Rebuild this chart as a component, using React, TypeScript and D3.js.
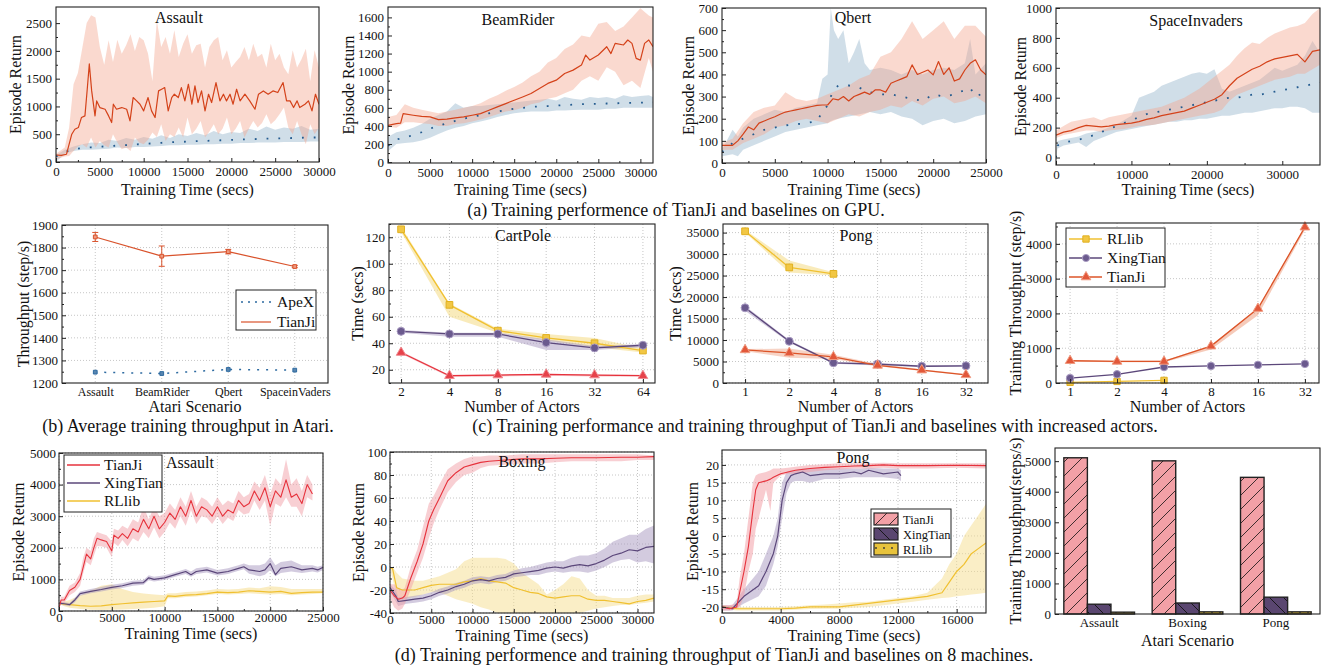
import { useEffect, useRef } from "react";
import * as d3 from "d3";

const FONT = "'Liberation Serif', 'Times New Roman', Times, serif";
const TICK = 13;
const AXT = 16;
const CAP = 18;
const HEAD = 16;

// ---------- shared time grids (secs) ----------
const t30k = [0, 1000, 2000, 3000, 4000, 5000, 6000, 7000, 8000, 9000, 10000, 11000, 12000, 13000, 14000, 15000, 16000, 17000, 18000, 19000, 20000, 21000, 22000, 23000, 24000, 25000, 26000, 27000, 28000, 29000, 30000];
const t31k5 = [0, 1000, 2000, 3000, 4000, 5000, 6000, 7000, 8000, 9000, 10000, 11000, 12000, 13000, 14000, 15000, 16000, 17000, 18000, 19000, 20000, 21000, 22000, 23000, 24000, 25000, 26000, 27000, 28000, 29000, 30000, 31000, 31500];
const t25k = [0, 1000, 2000, 3000, 4000, 5000, 6000, 7000, 8000, 9000, 10000, 11000, 12000, 13000, 14000, 15000, 16000, 17000, 18000, 19000, 20000, 21000, 22000, 23000, 24000, 25000];
const t25kHalf = [0, 500, 1000, 1500, 2000, 2500, 3000, 3500, 4000, 4500, 5000, 5500, 6000, 6500, 7000, 7500, 8000, 8500, 9000, 9500, 10000, 10500, 11000, 11500, 12000, 12500, 13000, 13500, 14000, 14500, 15000, 15500, 16000, 16500, 17000, 17500, 18000, 18500, 19000, 19500, 20000, 20500, 21000, 21500, 22000, 22500, 23000, 23500, 24000, 24500, 25000];
const t35k = [0, 1000, 2000, 3000, 4000, 5000, 6000, 7000, 8000, 9000, 10000, 11000, 12000, 13000, 14000, 15000, 16000, 17000, 18000, 19000, 20000, 21000, 22000, 23000, 24000, 25000, 26000, 27000, 28000, 29000, 30000, 31000, 32000, 33000, 34000, 35000];

// ---------- (a) Assault on GPU ----------
const assaultTianJiT = [0, 600, 1200, 1800, 2150, 2550, 2900, 3300, 3580, 3800, 4070, 4450, 4640, 5000, 5600, 6000, 6350, 6540, 6900, 7500, 8060, 8440, 8800, 9200, 9580, 10000, 10500, 10900, 11300, 11700, 12050, 12400, 12800, 13200, 13500, 13950, 14300, 14700, 15100, 15500, 15850, 16200, 16600, 17000, 17400, 17750, 18250, 18700, 19100, 19450, 19850, 20200, 20600, 21000, 21550, 22100, 22700, 23100, 23650, 24200, 24750, 25300, 25900, 26300, 26700, 27100, 27500, 27800, 28400, 28800, 29200, 29600, 30000];
const assaultTianJi = [126, 120, 140, 500, 590, 620, 800, 830, 1340, 1765, 1280, 830, 1100, 980, 950, 830, 710, 1040, 950, 980, 950, 740, 1160, 1100, 1040, 920, 1160, 920, 800, 1280, 1310, 1340, 920, 1160, 1220, 1160, 1340, 1100, 1400, 1040, 1370, 1070, 1280, 920, 1220, 1070, 1430, 1100, 1220, 1100, 1220, 1040, 1310, 1100, 1220, 1100, 950, 1220, 1280, 1220, 1280, 1250, 1430, 1100, 1100, 980, 1100, 980, 1040, 1100, 920, 1220, 1040];
const assaultBandT = [0, 1000, 1500, 2000, 2500, 3000, 3500, 4000, 4500, 5000, 5500, 6000, 6500, 7000, 7500, 8000, 8500, 9000, 9500, 10000, 10500, 11000, 11500, 12000, 12500, 13000, 13500, 14000, 14500, 15000, 15500, 16000, 16500, 17000, 17500, 18000, 18500, 19000, 19500, 20000, 20500, 21000, 21500, 22000, 22500, 23000, 23500, 24000, 24500, 25000, 25500, 26000, 26500, 27000, 27500, 28000, 28500, 29000, 29500, 30000];
const assaultTianJiHi = [150, 260, 620, 1400, 1600, 2050, 2500, 2640, 2600, 2070, 1750, 2190, 1800, 2200, 1950, 2100, 2300, 2000, 2250, 2190, 1950, 1460, 2550, 2070, 2250, 1950, 2370, 1890, 2130, 2300, 1950, 2100, 2130, 1700, 2070, 2190, 2250, 1830, 2010, 1700, 1800, 1890, 2070, 1830, 2130, 1890, 1950, 1700, 2130, 1830, 1950, 1700, 1580, 2010, 1700, 1850, 2040, 1460, 2010, 1700];
const assaultTianJiLo = [50, 100, 110, 200, 280, 320, 260, 440, 260, 380, 300, 260, 500, 350, 230, 260, 200, 440, 350, 320, 400, 530, 450, 680, 380, 500, 450, 620, 440, 800, 500, 600, 740, 440, 550, 680, 500, 600, 800, 500, 600, 740, 440, 600, 740, 620, 700, 860, 680, 750, 860, 980, 620, 500, 740, 500, 320, 680, 500, 620];
const assaultApex = [100, 180, 230, 250, 265, 275, 285, 295, 305, 315, 325, 335, 345, 355, 360, 368, 375, 380, 386, 392, 398, 404, 410, 415, 420, 424, 428, 432, 436, 440, 442];
const assaultApexHi = [120, 220, 280, 320, 350, 340, 400, 380, 430, 400, 450, 420, 480, 430, 500, 470, 520, 480, 560, 500, 540, 520, 600, 560, 640, 580, 620, 600, 650, 580, 600];
const assaultApexLo = [0, 150, 200, 220, 220, 230, 240, 260, 250, 270, 270, 280, 290, 300, 300, 310, 310, 320, 320, 330, 330, 340, 340, 350, 350, 350, 360, 360, 360, 370, 370];

// ---------- (a) BeamRider on GPU ----------
const beamTianJiT = [0, 1000, 1500, 1800, 3000, 4000, 5000, 6000, 7000, 8000, 9000, 10000, 11000, 12000, 13000, 14000, 15000, 16000, 17000, 18000, 19000, 20000, 21000, 22000, 23000, 23500, 24000, 25000, 26000, 26500, 27000, 28000, 28500, 29000, 29500, 30000, 30500, 31000, 31500];
const beamTianJi = [407, 425, 430, 536, 518, 505, 500, 470, 475, 490, 500, 518, 536, 573, 610, 647, 684, 720, 758, 814, 870, 906, 980, 1017, 1073, 1184, 1128, 1184, 1276, 1200, 1313, 1295, 1350, 1313, 1147, 1128, 1313, 1350, 1276];
const beamTianJiHi = [500, 520, 640, 600, 580, 560, 540, 560, 580, 600, 620, 650, 700, 740, 790, 830, 880, 950, 1000, 1100, 1150, 1250, 1300, 1400, 1380, 1530, 1550, 1450, 1500, 1600, 1700, 1620, 1600];
const beamTianJiLo = [390, 380, 440, 440, 430, 420, 400, 400, 420, 430, 450, 470, 500, 530, 560, 573, 600, 640, 660, 700, 720, 760, 800, 900, 950, 900, 1050, 1000, 850, 900, 820, 1150, 1000];
const beamApex = [180, 250, 270, 300, 330, 370, 400, 430, 455, 480, 500, 520, 540, 560, 575, 590, 600, 610, 615, 620, 625, 630, 635, 640, 642, 645, 648, 650, 652, 655, 658, 660, 660];
const beamApexHi = [280, 330, 350, 380, 420, 480, 520, 560, 650, 600, 620, 620, 630, 640, 650, 660, 670, 680, 690, 700, 680, 720, 700, 690, 720, 710, 720, 700, 740, 720, 730, 740, 720];
const beamApexLo = [120, 200, 210, 220, 240, 270, 310, 350, 380, 400, 430, 450, 470, 500, 520, 540, 550, 560, 560, 560, 570, 570, 575, 580, 580, 580, 590, 590, 600, 600, 600, 600, 600];

// ---------- (a) Qbert on GPU ----------
const qbertTianJi = [80, 80, 80, 100, 130, 163, 150, 180, 190, 200, 209, 220, 230, 235, 240, 245, 250, 255, 260, 262, 262, 290, 285, 300, 280, 300, 310, 320, 310, 330, 330, 320, 360, 370, 380, 390, 443, 400, 410, 420, 398, 458, 400, 430, 370, 380, 420, 450, 466, 420, 398];
const qbertTianJiHi = [90, 110, 180, 230, 250, 260, 320, 290, 280, 290, 310, 330, 350, 380, 400, 480, 500, 560, 640, 560, 600, 640, 560, 620, 620, 570];
const qbertTianJiLo = [60, 60, 90, 110, 130, 160, 170, 190, 200, 190, 180, 200, 220, 210, 230, 240, 260, 250, 280, 260, 290, 300, 270, 280, 300, 270];
const qbertApexT = [0, 1000, 1500, 2000, 3000, 4000, 5000, 6000, 7000, 8000, 9000, 9500, 10000, 10300, 10600, 11000, 11500, 12000, 12500, 13000, 13500, 14000, 15000, 16000, 17000, 18000, 19000, 20000, 21000, 22000, 23000, 23500, 24000, 25000];
const qbertApex = [50, 90, 100, 110, 130, 150, 160, 170, 175, 180, 190, 230, 260, 300, 330, 350, 350, 350, 345, 340, 330, 320, 310, 310, 300, 290, 280, 310, 300, 310, 330, 340, 300, 320];
const qbertApexHi = [60, 150, 120, 160, 200, 220, 240, 230, 250, 260, 270, 380, 400, 700, 600, 560, 600, 450, 500, 560, 450, 420, 430, 420, 400, 420, 400, 420, 430, 420, 450, 560, 400, 450];
const qbertApexLo = [30, 40, 30, 60, 80, 100, 120, 140, 150, 160, 170, 175, 180, 190, 195, 200, 205, 210, 215, 220, 225, 230, 220, 230, 210, 200, 170, 190, 200, 180, 190, 200, 210, 220];

// ---------- (a) SpaceInvaders on GPU ----------
const spaceTianJi = [150, 170, 180, 200, 215, 210, 205, 210, 220, 225, 230, 240, 255, 265, 280, 290, 300, 310, 330, 350, 370, 390, 420, 480, 530, 560, 590, 610, 640, 660, 670, 680, 690, 640, 710, 720];
const spaceTianJiHi = [180, 210, 240, 250, 260, 270, 250, 270, 280, 290, 300, 310, 320, 330, 340, 360, 380, 400, 430, 460, 500, 540, 580, 620, 680, 730, 770, 760, 800, 830, 850, 870, 880, 900, 960, 1000];
const spaceTianJiLo = [130, 150, 160, 170, 180, 180, 170, 180, 185, 190, 200, 210, 215, 220, 230, 240, 250, 260, 270, 280, 290, 300, 320, 380, 420, 440, 460, 480, 500, 520, 530, 540, 560, 560, 590, 620];
const spaceApexT = [0, 200, 1000, 2000, 3000, 4000, 5000, 6000, 7000, 8000, 9000, 10000, 11000, 12000, 13000, 14000, 15000, 16000, 17000, 18000, 19000, 20000, 21000, 22000, 23000, 24000, 25000, 26000, 27000, 28000, 29000, 30000, 31000, 32000, 33000, 34000, 35000];
const spaceApex = [0, 80, 100, 110, 120, 130, 150, 170, 190, 210, 230, 250, 270, 290, 300, 310, 320, 330, 340, 350, 360, 370, 380, 390, 400, 400, 410, 420, 420, 430, 440, 450, 460, 470, 480, 490, 500];
const spaceApexHi = [10, 110, 120, 130, 140, 160, 170, 180, 200, 220, 250, 280, 400, 420, 440, 480, 500, 520, 540, 560, 570, 560, 590, 460, 440, 460, 480, 500, 520, 560, 600, 580, 600, 620, 680, 780, 700];
const spaceApexLo = [0, 60, 80, 90, 100, 70, 110, 130, 150, 170, 180, 190, 200, 210, 220, 230, 240, 240, 250, 250, 260, 260, 270, 280, 280, 290, 300, 300, 310, 320, 330, 330, 340, 340, 330, 300, 300];

// ---------- (b) average throughput ----------
const atariScenarios = ["Assault", "BeamRider", "Qbert", "SpaceinVaders"];
const throughputTianJi = [1847, 1762, 1782, 1716];
const throughputTianJiErr = [20, 45, 10, 5];
const throughputApex = [1248, 1242, 1260, 1257];

// ---------- (c) increased actors ----------
const cartActors = ["2", "4", "8", "16", "32", "64"];
const cartRllib = [126, 69, 49.5, 44, 40, 34.5];
const cartRllibHi = [128, 70, 51, 47, 44, 36];
const cartRllibLo = [124, 60, 48, 42, 37, 33];
const cartXingTian = [49, 47, 47, 40.5, 36.5, 38.5];
const cartXingTianHi = [50, 48, 48, 43, 38, 39.5];
const cartXingTianLo = [48, 45, 45, 35, 35, 37];
const cartTianJi = [33, 15.5, 16, 16.5, 16, 15.5];
const cartTianJiHi = [34, 16, 16.5, 17, 16.5, 16];
const cartTianJiLo = [32, 14.5, 15, 15.5, 15, 15];

const pongActors = ["1", "2", "4", "8", "16", "32"];
const pongRllib = [35300, 26900, 25400];
const pongRllibHi = [35600, 28500, 25800];
const pongRllibLo = [35000, 25700, 25000];
const pongXingTian = [17500, 9700, 4700, 4400, 3900, 4000];
const pongXingTianHi = [17900, 10000, 4900, 4700, 4100, 4200];
const pongXingTianLo = [16800, 9400, 4500, 4100, 3700, 3800];
const pongTianJi = [7700, 7000, 6100, 4100, 3000, 1900];
const pongTianJiHi = [7900, 8000, 6600, 4400, 3200, 2100];
const pongTianJiLo = [7400, 5900, 5600, 3900, 2800, 1800];

const tputActors = ["1", "2", "4", "8", "16", "32"];
const tputRllib = [20, 45, 75];
const tputXingTian = [140, 250, 460, 490, 520, 550];
const tputTianJi = [640, 620, 620, 1060, 2140, 4480];
const tputTianJiHi = [660, 640, 640, 1080, 2160, 4500];
const tputTianJiLo = [620, 600, 600, 960, 1950, 4400];

// ---------- (d) 8 machines: Assault ----------
const m8AssaultTianJiT = [0, 200, 500, 1000, 1500, 2000, 2300, 2600, 3000, 3300, 3600, 4000, 4500, 5000, 5200, 5600, 6000, 6500, 7000, 7500, 8000, 8500, 9000, 9500, 10000, 10500, 11000, 11500, 12000, 12500, 13000, 13500, 14000, 14500, 15000, 15500, 16000, 16500, 17000, 17500, 18000, 18500, 19000, 19500, 20000, 20500, 21000, 21500, 22000, 22500, 23000, 23500, 24000];
const m8AssaultTianJi = [100, 350, 350, 650, 750, 1000, 1400, 1800, 1650, 2000, 2300, 2250, 2200, 1900, 2400, 2300, 2450, 2300, 2600, 2500, 2900, 2600, 3000, 2600, 2800, 3100, 2900, 3300, 3000, 3500, 3000, 3300, 3200, 3000, 3300, 3000, 3200, 3100, 3500, 3300, 3400, 3800, 3500, 3900, 3300, 3800, 3600, 4150, 3600, 3700, 3400, 4000, 3700];
const m8AssaultTianJiHi = [150, 450, 450, 800, 900, 1200, 1700, 2000, 1900, 2300, 2500, 2450, 2400, 2200, 2600, 2550, 2700, 2600, 2900, 2800, 3300, 2900, 3300, 3000, 3100, 3400, 3200, 3600, 3300, 3800, 3300, 3600, 3500, 3300, 3600, 3350, 3500, 3400, 3800, 3600, 3700, 4100, 3900, 4300, 3700, 4200, 4000, 4800, 4000, 4200, 3800, 4300, 4000];
const m8AssaultTianJiLo = [50, 250, 250, 500, 600, 800, 1200, 1550, 1450, 1750, 2050, 2050, 2000, 1700, 2150, 2050, 2250, 2050, 2300, 2200, 2500, 2300, 2650, 2300, 2500, 2800, 2600, 3000, 2700, 3200, 2750, 3000, 2950, 2750, 3000, 2750, 2950, 2850, 3200, 3050, 3100, 3500, 3200, 3500, 2700, 3400, 3300, 3600, 3300, 3300, 3000, 3600, 3500];
const m8AssaultXingTianT = [0, 500, 1000, 1500, 2000, 3000, 4000, 5000, 6000, 7000, 8000, 8500, 9000, 10000, 11000, 12000, 12500, 13000, 14000, 15000, 16000, 17000, 17500, 18000, 19000, 19500, 20000, 20500, 21000, 22000, 23000, 24000, 24500, 25000];
const m8AssaultXingTian = [250, 230, 200, 350, 550, 620, 680, 750, 800, 880, 900, 1050, 1000, 1050, 1150, 1250, 1150, 1250, 1300, 1200, 1250, 1350, 1400, 1300, 1250, 1300, 1500, 1150, 1350, 1400, 1300, 1350, 1300, 1380];
const m8AssaultXingTianHi = [300, 280, 250, 420, 620, 700, 760, 830, 880, 960, 980, 1130, 1080, 1130, 1230, 1330, 1250, 1350, 1400, 1300, 1350, 1450, 1500, 1450, 1450, 1500, 1700, 1450, 1550, 1600, 1450, 1450, 1400, 1450];
const m8AssaultXingTianLo = [200, 180, 150, 280, 480, 560, 620, 680, 730, 800, 830, 970, 930, 980, 1080, 1170, 1080, 1170, 1220, 1120, 1170, 1270, 1320, 1180, 1100, 1150, 1300, 1100, 1200, 1250, 1200, 1250, 1220, 1300];
const m8AssaultRllibT = [0, 500, 1000, 2000, 3000, 4000, 5000, 6000, 7000, 8000, 9000, 10000, 10300, 11000, 12000, 13000, 14000, 15000, 16000, 17000, 18000, 19000, 20000, 21000, 22000, 23000, 24000, 25000];
const m8AssaultRllib = [250, 220, 200, 170, 150, 160, 200, 230, 260, 280, 300, 320, 480, 460, 500, 520, 550, 600, 580, 600, 640, 620, 600, 620, 560, 580, 600, 600];
const m8AssaultRllibHi = [270, 300, 350, 500, 650, 800, 850, 700, 600, 550, 520, 500, 560, 560, 600, 620, 650, 700, 680, 700, 740, 720, 780, 760, 700, 700, 700, 700];
const m8AssaultRllibLo = [230, 150, 100, 60, 40, 30, 40, 50, 60, 80, 100, 150, 400, 400, 440, 460, 500, 540, 520, 540, 560, 540, 520, 540, 500, 520, 540, 560];

// ---------- (d) 8 machines: Boxing ----------
const m8BoxingTianJiT = [0, 500, 1000, 1500, 1800, 2500, 3300, 4000, 4700, 5300, 6000, 7000, 8000, 9000, 10000, 11000, 12000, 14000, 16000, 18000, 20000, 22000, 25000, 28000, 30000, 32000];
const m8BoxingTianJi = [-20, -25, -28, -27, -25, -10, 5, 20, 40, 50, 60, 75, 82, 87, 89, 91, 92, 93, 94, 94, 94.5, 95, 95, 95.5, 95.5, 96];
const m8BoxingTianJiHi = [-15, -15, -18, -20, -18, 0, 15, 35, 55, 62, 72, 85, 90, 94, 96, 96, 97, 97, 98, 98, 98, 98, 98, 98, 98, 97];
const m8BoxingTianJiLo = [-27, -35, -38, -36, -32, -20, -5, 8, 25, 38, 50, 65, 74, 80, 82, 86, 88, 89, 90, 90, 91, 92, 92, 92, 93, 93];
const m8BoxingXingTianT = [0, 700, 1000, 2000, 3000, 4000, 5000, 6000, 7000, 8000, 9000, 10000, 11000, 12000, 13000, 14000, 15000, 16000, 17000, 18000, 19000, 20000, 21000, 22000, 23000, 24000, 25000, 26000, 27000, 28000, 29000, 30000, 31000, 32000];
const m8BoxingXingTian = [-18, -25, -30, -29, -28, -27, -25, -22, -20, -17, -15, -12, -11, -12, -10, -9, -6, -5, -4, -3, -1, 0, -1, 1, 2, 1, 3, 6, 10, 12, 15, 14, 17, 18];
const m8BoxingXingTianHi = [-15, -20, -26, -26, -25, -24, -22, -19, -17, -14, -12, -9, -8, -9, -7, -6, -3, -1, 0, 2, 4, 5, 5, 8, 10, 10, 12, 16, 22, 25, 28, 28, 33, 36];
const m8BoxingXingTianLo = [-21, -30, -34, -32, -31, -30, -28, -25, -23, -20, -18, -15, -14, -15, -13, -12, -9, -8, -7, -7, -5, -4, -5, -4, -4, -5, -3, 0, 4, 6, 7, 4, 5, 3];
const m8BoxingRllibT = [0, 300, 800, 1500, 3000, 4000, 5000, 6000, 7000, 8000, 9000, 10000, 11000, 12000, 13000, 14000, 15000, 16000, 17000, 18000, 19000, 20000, 21000, 22000, 23000, 24000, 25000, 26000, 27000, 28000, 29000, 30000, 31000, 32000];
const m8BoxingRllib = [-1, -1, -18, -20, -20, -18, -16, -15, -15, -15, -13, -12, -10, -12, -13, -14, -18, -20, -22, -23, -26, -27, -26, -25, -25, -28, -29, -29, -30, -31, -32, -30, -29, -27];
const m8BoxingRllibHi = [-1, 0, -5, -10, -12, -12, -10, -8, -5, -2, 5, 8, 8, 8, 8, 7, 3, -5, -10, -15, -24, -20, -15, -8, -10, -20, -25, -25, -27, -27, -27, -25, -24, -24];
const m8BoxingRllibLo = [-1, -10, -25, -28, -26, -24, -22, -22, -25, -28, -30, -32, -35, -37, -40, -40, -40, -40, -40, -40, -40, -40, -40, -40, -40, -38, -36, -35, -34, -33, -33, -32, -31, -30];

// ---------- (d) 8 machines: Pong ----------
const m8PongTianJiT = [0, 500, 1000, 1200, 1500, 1800, 2100, 2300, 2500, 3000, 3300, 3500, 4000, 4500, 5000, 6000, 7000, 8000, 9000, 10000, 11000, 12000, 14000, 16000, 18000];
const m8PongTianJi = [-20, -20.5, -20, -16, -10, -3, 7, 13, 15, 15.5, 16, 16.5, 17.5, 18, 18.5, 19, 19.3, 19.5, 19.7, 19.8, 20, 19.8, 19.8, 19.9, 19.8];
const m8PongTianJiHi = [-19.5, -19.5, -19, -12, -5, 5, 15, 17, 17.5, 18, 18.5, 19, 19, 19.2, 19.5, 20, 20.2, 20.5, 20.5, 20.5, 20.6, 20.5, 20.5, 20.5, 20.5];
const m8PongTianJiLo = [-21, -21, -20.5, -20, -17, -10, -5, 2, 5, 13, 7, 15, 17, 17.5, 17.5, 18, 18.5, 18.7, 19, 19, 19.2, 19, 19, 19.2, 19];
const m8PongXingTianT = [0, 700, 1500, 2500, 3000, 3500, 3800, 4100, 4400, 4700, 5000, 5500, 6000, 7000, 8000, 9000, 9500, 10000, 11000, 12000, 12200];
const m8PongXingTian = [-20, -20.5, -17, -14, -10, -5, 0, 10, 15, 17, 17.5, 18, 17, 17.5, 17.5, 18, 17.5, 18.5, 17.5, 18, 17];
const m8PongXingTianHi = [-19.5, -19.5, -15, -10, -5, 0, 5, 15, 18, 18.5, 18.5, 19, 19, 19, 19, 19, 19, 19.2, 19, 19, 18.5];
const m8PongXingTianLo = [-21, -21, -19, -17, -14, -8, -3, 5, 12, 15, 15.5, 15.5, 15, 16, 16, 16.5, 16.5, 16.5, 16.5, 16, 15.5];
const m8PongRllibT = [0, 1000, 2000, 3000, 4000, 5000, 6000, 7000, 8000, 9000, 10000, 11000, 12000, 13000, 14000, 15000, 15500, 16000, 16500, 17000, 17500, 18000];
const m8PongRllib = [-20, -20.5, -20.5, -20.5, -20.5, -20.3, -20, -20, -20, -19.5, -19, -18.5, -18, -17.5, -17, -16, -13, -10, -8, -5, -3.5, -2];
const m8PongRllibHi = [-19.5, -20, -20, -20, -20, -19.8, -19.5, -19.3, -19, -18.7, -18.5, -18, -17.5, -17, -16, -12, -8, -5, 0, 3, 6, 9];
const m8PongRllibLo = [-20.5, -21, -21, -21, -21, -20.8, -20.6, -20.5, -20.5, -20.2, -20, -19.5, -19, -18.5, -18, -17.5, -17.3, -17, -16.8, -16.5, -16.3, -16];

// ---------- (d) 8 machines: throughput bars ----------
const barScenarios = ["Assault", "Boxing", "Pong"];
const barSystems = ["TianJi", "XingTian", "RLlib"];
const barTianJi = [5110, 5010, 4470];
const barXingTian = [320, 360, 550];
const barRllib = [60, 70, 70];

// colours
const C = {
  gpuRed: "#d4421a",
  gpuRedBand: "#f2a58c",
  apexBlue: "#245b8f",
  apexBand: "#8fb0c8",
  yellow: "#f0c030",
  yellowBand: "#f5dd8e",
  purple: "#5b477a",
  purpleBand: "#a898bf",
  red: "#e6323c",
  redBand: "#f2a0a8",
  orange: "#dc5428",
  barPink: "#f2a0a6",
  barPurple: "#5a4670",
  barYellow: "#e8c33c",
};

type Box = { l: number; t: number; r: number; b: number };

const zip = (T: any[], ...cols: number[][]) => T.map((t, i) => [t, ...cols.map((c) => c[i])]);

function txt(svg: any, x: number, y: number, s: string, size: number, anchor = "middle", rot = false) {
  const t = svg
    .append("text")
    .attr("font-family", FONT)
    .attr("font-size", size)
    .attr("fill", "#111")
    .attr("text-anchor", anchor)
    .text(s);
  if (rot) t.attr("transform", `translate(${x},${y}) rotate(-90)`).attr("dy", "0.35em");
  else t.attr("x", x).attr("y", y);
  return t;
}

function band(g: any, x: any, y: any, T: any[], lo: number[], hi: number[], fill: string, op: number) {
  const area = d3
    .area<any>()
    .x((d) => x(d[0]))
    .y0((d) => y(d[1]))
    .y1((d) => y(d[2]));
  g.append("path").datum(zip(T, lo, hi)).attr("d", area).attr("fill", fill).attr("fill-opacity", op);
}

function line(g: any, x: any, y: any, T: any[], v: number[], stroke: string, w: number, dash: string | null = null) {
  const ln = d3
    .line<any>()
    .x((d) => x(d[0]))
    .y((d) => y(d[1]));
  g.append("path")
    .datum(zip(T.slice(0, v.length), v))
    .attr("d", ln)
    .attr("fill", "none")
    .attr("stroke", stroke)
    .attr("stroke-width", w)
    .attr("stroke-linejoin", "round")
    .attr("stroke-dasharray", dash);
}

function marks(g: any, x: any, y: any, cats: string[], v: number[], type: any, size: number, fill: string, stroke: string) {
  const sym = d3.symbol().type(type).size(size);
  v.forEach((d, i) => {
    g.append("path")
      .attr("d", sym())
      .attr("transform", `translate(${x(cats[i])},${y(d)})`)
      .attr("fill", fill)
      .attr("stroke", stroke)
      .attr("stroke-width", 1);
  });
}

function clipped(svg: any, defs: any, id: string, box: Box) {
  defs
    .append("clipPath")
    .attr("id", id)
    .append("rect")
    .attr("x", box.l)
    .attr("y", box.t)
    .attr("width", box.r - box.l)
    .attr("height", box.b - box.t);
  return svg.append("g").attr("clip-path", `url(#${id})`);
}

function grid(svg: any, box: Box, x: any, y: any, xs: any[], ys: number[]) {
  const g = svg.append("g").attr("stroke", "#b8b8b8").attr("stroke-width", 0.8).attr("stroke-dasharray", "1,2");
  xs.forEach((v) => g.append("line").attr("x1", x(v)).attr("x2", x(v)).attr("y1", box.t).attr("y2", box.b));
  ys.forEach((v) => g.append("line").attr("y1", y(v)).attr("y2", y(v)).attr("x1", box.l).attr("x2", box.r));
}

function axes(svg: any, box: Box, x: any, y: any, o: any) {
  const style = (s: any) => {
    s.select(".domain").remove();
    s.selectAll("line").attr("stroke", "#222");
    s.selectAll("text").attr("font-family", FONT).attr("font-size", o.xFont ?? TICK).attr("fill", "#111");
  };
  const styleY = (s: any) => {
    style(s);
    s.selectAll("text").attr("font-size", TICK);
  };
  const fmt = (d: any) => String(d);
  if (o.xMinor)
    svg.append("g").attr("transform", `translate(0,${box.b})`)
      .call(d3.axisBottom(x).tickValues(o.xMinor).tickSize(-2).tickFormat(() => "")).call(style);
  svg.append("g").attr("transform", `translate(0,${box.b})`)
    .call(d3.axisBottom(x).tickValues(o.xTicks).tickSize(o.xTickSize ?? -4).tickPadding(o.xPad ?? 5).tickFormat(fmt)).call(style);
  if (o.yMinor)
    svg.append("g").attr("transform", `translate(${box.l},0)`)
      .call(d3.axisLeft(y).tickValues(o.yMinor).tickSize(-2).tickFormat(() => "")).call(styleY);
  svg.append("g").attr("transform", `translate(${box.l},0)`)
    .call(d3.axisLeft(y).tickValues(o.yTicks).tickSize(-4).tickPadding(o.yPad ?? 4).tickFormat(fmt)).call(styleY);
  svg.append("rect")
    .attr("x", box.l).attr("y", box.t)
    .attr("width", box.r - box.l).attr("height", box.b - box.t)
    .attr("fill", "none").attr("stroke", "#222").attr("stroke-width", 1.1);
}

function gpuPanel(svg: any, defs: any, id: string, box: Box, xMax: number, yDom: number[], o: any, d: any) {
  const x = d3.scaleLinear().domain([0, xMax]).range([box.l, box.r]);
  const y = d3.scaleLinear().domain(yDom).range([box.b, box.t]);
  const g = clipped(svg, defs, id, box);
  band(g, x, y, d.apexT, d.apexLo, d.apexHi, C.apexBand, 0.42);
  band(g, x, y, d.bandT, d.tjLo, d.tjHi, C.gpuRedBand, 0.42);
  line(g, x, y, d.apexT, d.apex, C.apexBlue, 1.8, "1.8,10");
  line(g, x, y, d.tjT, d.tj, C.gpuRed, 1.2);
  axes(svg, box, x, y, o);
  txt(svg, o.titleX, o.titleY, o.title, HEAD);
  txt(svg, (box.l + box.r) / 2, 195, "Training Time (secs)", AXT);
  txt(svg, o.yTitleX, (box.t + box.b) / 2, "Episode Return", AXT, "middle", true);
}

function drawAll(svg: any) {
  const defs = svg.append("defs");

  // hatch patterns for bars / legend patches
  const pat = (id: string, size: number, path: string, stroke: string, w: number) =>
    defs.append("pattern").attr("id", id).attr("patternUnits", "userSpaceOnUse")
      .attr("width", size).attr("height", size)
      .append("path").attr("d", path).attr("stroke", stroke).attr("stroke-width", w).attr("fill", "none");
  pat("hatchFwd", 14, "M0,14 L14,0 M-3,3 L3,-3 M11,17 L17,11", "#2a2020", 0.9);
  pat("hatchBack", 14, "M0,0 L14,14 M-3,11 L3,17 M11,-3 L17,3", "#111", 0.9);
  defs.append("pattern").attr("id", "dots").attr("patternUnits", "userSpaceOnUse")
    .attr("width", 8).attr("height", 8)
    .append("circle").attr("cx", 4).attr("cy", 4).attr("r", 0.9).attr("fill", "#333");

  // ===== row (a) =====
  gpuPanel(svg, defs, "ca1", { l: 56, t: 7, r: 319, b: 162 }, 30000, [0, 2790],
    {
      xTicks: [0, 5000, 10000, 15000, 20000, 25000, 30000], xMinor: d3.range(2500, 30000, 5000),
      yTicks: [0, 500, 1000, 1500, 2000, 2500], yMinor: d3.range(250, 2750, 500),
      title: "Assault", titleX: 179, titleY: 23, yTitleX: 15,
    },
    {
      tjT: assaultTianJiT, tj: assaultTianJi, bandT: assaultBandT, tjHi: assaultTianJiHi, tjLo: assaultTianJiLo,
      apexT: t30k, apex: assaultApex, apexHi: assaultApexHi, apexLo: assaultApexLo,
    });
  gpuPanel(svg, defs, "ca2", { l: 388, t: 7, r: 653, b: 163 }, 31500, [-10, 1715],
    {
      xTicks: [0, 5000, 10000, 15000, 20000, 25000, 30000], xMinor: d3.range(2500, 31500, 5000),
      yTicks: [0, 200, 400, 600, 800, 1000, 1200, 1400, 1600], yMinor: d3.range(100, 1700, 200),
      title: "BeamRider", titleX: 518, titleY: 25, yTitleX: 348,
    },
    {
      tjT: beamTianJiT, tj: beamTianJi, bandT: t31k5, tjHi: beamTianJiHi, tjLo: beamTianJiLo,
      apexT: t31k5, apex: beamApex, apexHi: beamApexHi, apexLo: beamApexLo,
    });
  gpuPanel(svg, defs, "ca3", { l: 722, t: 8, r: 986, b: 163 }, 25000, [0, 700],
    {
      xTicks: [0, 5000, 10000, 15000, 20000, 25000], xMinor: d3.range(2500, 25000, 5000),
      yTicks: [0, 100, 200, 300, 400, 500, 600, 700], yMinor: d3.range(50, 700, 100),
      title: "Qbert", titleX: 853, titleY: 23, yTitleX: 688,
    },
    {
      tjT: t25kHalf, tj: qbertTianJi, bandT: t25k, tjHi: qbertTianJiHi, tjLo: qbertTianJiLo,
      apexT: qbertApexT, apex: qbertApex, apexHi: qbertApexHi, apexLo: qbertApexLo,
    });
  gpuPanel(svg, defs, "ca4", { l: 1056, t: 8, r: 1320, b: 165 }, 35000, [-50, 1000],
    {
      xTicks: [0, 10000, 20000, 30000], xMinor: [5000, 15000, 25000],
      yTicks: [0, 200, 400, 600, 800, 1000], yMinor: d3.range(100, 1000, 200),
      title: "SpaceInvaders", titleX: 1196, titleY: 26, yTitleX: 1020,
    },
    {
      tjT: t35k, tj: spaceTianJi, bandT: t35k, tjHi: spaceTianJiHi, tjLo: spaceTianJiLo,
      apexT: spaceApexT, apex: spaceApex, apexHi: spaceApexHi, apexLo: spaceApexLo,
    });
  txt(svg, 676, 216, "(a) Training performence of TianJi and baselines on GPU.", CAP);

  // ===== (b) throughput =====
  {
    const box = { l: 62, t: 225, r: 328, b: 383 };
    const x = d3.scalePoint().domain(atariScenarios).range([box.l, box.r]).padding(0.5);
    const y = d3.scaleLinear().domain([1200, 1900]).range([box.b, box.t]);
    grid(svg, box, x, y, atariScenarios, [1300, 1400, 1500, 1600, 1700, 1800]);
    line(svg, x, y, atariScenarios, throughputApex, "#2d6aa0", 1.5, "2,7");
    line(svg, x, y, atariScenarios, throughputTianJi, "#d9532c", 1.2);
    throughputTianJi.forEach((v, i) => {
      const cx = x(atariScenarios[i])!;
      const e = throughputTianJiErr[i];
      const g = svg.append("g").attr("stroke", "#d9532c").attr("stroke-width", 1);
      g.append("line").attr("x1", cx).attr("x2", cx).attr("y1", y(v - e)).attr("y2", y(v + e));
      g.append("line").attr("x1", cx - 3).attr("x2", cx + 3).attr("y1", y(v - e)).attr("y2", y(v - e));
      g.append("line").attr("x1", cx - 3).attr("x2", cx + 3).attr("y1", y(v + e)).attr("y2", y(v + e));
    });
    marks(svg, x, y, atariScenarios, throughputTianJi, d3.symbolSquare, 14, "#ee9a80", "#d9532c");
    marks(svg, x, y, atariScenarios, throughputApex, d3.symbolSquare, 14, "#5a86b0", "#2d6aa0");
    axes(svg, box, x, y, {
      xTicks: atariScenarios, xTickSize: 0, xPad: 4, xFont: 12,
      yTicks: [1200, 1300, 1400, 1500, 1600, 1700, 1800, 1900], yMinor: d3.range(1250, 1900, 100),
    });
    // legend
    svg.append("rect").attr("x", 236).attr("y", 290).attr("width", 80).attr("height", 40)
      .attr("fill", "#fff").attr("stroke", "#222").attr("stroke-width", 1);
    svg.append("line").attr("x1", 241).attr("x2", 271).attr("y1", 302).attr("y2", 302)
      .attr("stroke", "#2d6aa0").attr("stroke-width", 1.5).attr("stroke-dasharray", "2,5");
    svg.append("line").attr("x1", 241).attr("x2", 271).attr("y1", 322).attr("y2", 322)
      .attr("stroke", "#d9532c").attr("stroke-width", 1.2);
    txt(svg, 277, 307, "ApeX", 15.5, "start");
    txt(svg, 277, 327, "TianJi", 15.5, "start");
    txt(svg, (box.l + box.r) / 2, 412, "Atari Scenario", AXT);
    txt(svg, 23, (box.t + box.b) / 2, "Throughput (step/s)", AXT, "middle", true);
    txt(svg, 188, 432, "(b) Average training throughput in Atari.", CAP);
  }

  // ===== (c) CartPole time =====
  {
    const box = { l: 389, t: 224, r: 655, b: 383 };
    const x = d3.scalePoint().domain(cartActors).range([box.l, box.r]).padding(0.25);
    const y = d3.scaleLinear().domain([10, 130]).range([box.b, box.t]);
    grid(svg, box, x, y, cartActors, [20, 40, 60, 80, 100, 120]);
    const g = clipped(svg, defs, "cc1", box);
    band(g, x, y, cartActors, cartRllibLo, cartRllibHi, C.yellowBand, 0.6);
    band(g, x, y, cartActors, cartXingTianLo, cartXingTianHi, C.purpleBand, 0.5);
    band(g, x, y, cartActors, cartTianJiLo, cartTianJiHi, C.redBand, 0.6);
    line(g, x, y, cartActors, cartRllib, C.yellow, 1.3);
    line(g, x, y, cartActors, cartXingTian, C.purple, 1.3);
    line(g, x, y, cartActors, cartTianJi, C.red, 1.3);
    marks(svg, x, y, cartActors, cartRllib, d3.symbolSquare, 45, "#f2c744", "#e0b020");
    marks(svg, x, y, cartActors, cartXingTian, d3.symbolCircle, 50, "#6b5a8e", "#a99bc2");
    marks(svg, x, y, cartActors, cartTianJi, d3.symbolTriangle, 40, "#e6424a", "#f08a90");
    axes(svg, box, x, y, {
      xTicks: cartActors, xPad: 4,
      yTicks: [20, 40, 60, 80, 100, 120], yMinor: d3.range(10, 131, 10).filter((v) => v % 20 !== 0),
    });
    txt(svg, 523, 241, "CartPole", HEAD);
    txt(svg, (box.l + box.r) / 2, 412, "Number of Actors", AXT);
    txt(svg, 357, (box.t + box.b) / 2, "Time (secs)", AXT, "middle", true);
  }

  // ===== (c) Pong time =====
  {
    const box = { l: 723, t: 224, r: 988, b: 383 };
    const x = d3.scalePoint().domain(pongActors).range([box.l, box.r]).padding(0.5);
    const y = d3.scaleLinear().domain([0, 37000]).range([box.b, box.t]);
    const yt = [0, 5000, 10000, 15000, 20000, 25000, 30000, 35000];
    grid(svg, box, x, y, pongActors, yt);
    const g = clipped(svg, defs, "cc2", box);
    band(g, x, y, pongActors.slice(0, 3), pongRllibLo, pongRllibHi, C.yellowBand, 0.6);
    band(g, x, y, pongActors, pongXingTianLo, pongXingTianHi, C.purpleBand, 0.5);
    band(g, x, y, pongActors, pongTianJiLo, pongTianJiHi, "#f0a88c", 0.5);
    line(g, x, y, pongActors, pongRllib, C.yellow, 1.3);
    line(g, x, y, pongActors, pongXingTian, C.purple, 1.3);
    line(g, x, y, pongActors, pongTianJi, C.orange, 1.3);
    marks(svg, x, y, pongActors, pongRllib, d3.symbolSquare, 45, "#f2c744", "#e0b020");
    marks(svg, x, y, pongActors, pongXingTian, d3.symbolCircle, 50, "#6b5a8e", "#a99bc2");
    marks(svg, x, y, pongActors, pongTianJi, d3.symbolTriangle, 40, "#e2583a", "#f09a80");
    axes(svg, box, x, y, { xTicks: pongActors, xPad: 4, yTicks: yt, yMinor: d3.range(2500, 37000, 5000) });
    txt(svg, 856, 241, "Pong", HEAD);
    txt(svg, (box.l + box.r) / 2, 412, "Number of Actors", AXT);
    txt(svg, 675, (box.t + box.b) / 2, "Time (secs)", AXT, "middle", true);
  }

  // ===== (c) throughput =====
  {
    const box = { l: 1056, t: 223, r: 1319, b: 383 };
    const x = d3.scalePoint().domain(tputActors).range([box.l, box.r]).padding(0.3);
    const y = d3.scaleLinear().domain([0, 4600]).range([box.b, box.t]);
    const yt = [0, 1000, 2000, 3000, 4000];
    grid(svg, box, x, y, tputActors, yt);
    const g = clipped(svg, defs, "cc3", box);
    band(g, x, y, tputActors, tputTianJiLo, tputTianJiHi, "#f0a88c", 0.6);
    line(g, x, y, tputActors, tputRllib, C.yellow, 1.3);
    line(g, x, y, tputActors, tputXingTian, C.purple, 1.3);
    line(g, x, y, tputActors, tputTianJi, C.orange, 1.3);
    marks(svg, x, y, tputActors, tputRllib, d3.symbolSquare, 40, "#f2c744", "#e0b020");
    marks(svg, x, y, tputActors, tputXingTian, d3.symbolCircle, 45, "#6b5a8e", "#a99bc2");
    marks(svg, x, y, tputActors, tputTianJi, d3.symbolTriangle, 40, "#e2583a", "#f09a80");
    axes(svg, box, x, y, { xTicks: tputActors, xPad: 4, yTicks: yt, yMinor: d3.range(500, 4600, 1000) });
    // legend
    svg.append("rect").attr("x", 1066).attr("y", 228).attr("width", 99).attr("height", 59)
      .attr("fill", "#fff").attr("stroke", "#222").attr("stroke-width", 1);
    const items = [
      { n: "RLlib", c: C.yellow, s: d3.symbolSquare, f: "#f2c744", k: "#e0b020" },
      { n: "XingTian", c: C.purple, s: d3.symbolCircle, f: "#6b5a8e", k: "#a99bc2" },
      { n: "TianJi", c: C.orange, s: d3.symbolTriangle, f: "#e2583a", k: "#f09a80" },
    ];
    items.forEach((it, i) => {
      const ly = 239 + i * 19;
      svg.append("line").attr("x1", 1069).attr("x2", 1102).attr("y1", ly).attr("y2", ly)
        .attr("stroke", it.c).attr("stroke-width", 1.3);
      svg.append("path").attr("d", d3.symbol().type(it.s).size(40)())
        .attr("transform", `translate(1086,${ly})`).attr("fill", it.f).attr("stroke", it.k);
      txt(svg, 1107, ly + 5, it.n, 15.5, "start");
    });
    txt(svg, (box.l + box.r) / 2, 412, "Number of Actors", AXT);
    txt(svg, 1015, (box.t + box.b) / 2, "Training Throughput (step/s)", AXT, "middle", true);
  }
  txt(svg, 815, 432, "(c) Training performance and training throughput of TianJi and baselines with increased actors.", CAP);

  // ===== (d) Assault 8 machines =====
  {
    const box = { l: 59, t: 453, r: 323, b: 611 };
    const x = d3.scaleLinear().domain([0, 25000]).range([box.l, box.r]);
    const y = d3.scaleLinear().domain([0, 5000]).range([box.b, box.t]);
    const xt = [0, 5000, 10000, 15000, 20000, 25000];
    const yt = [0, 1000, 2000, 3000, 4000, 5000];
    grid(svg, box, x, y, xt, yt);
    const g = clipped(svg, defs, "cd1", box);
    band(g, x, y, m8AssaultRllibT, m8AssaultRllibLo, m8AssaultRllibHi, C.yellowBand, 0.55);
    band(g, x, y, m8AssaultXingTianT, m8AssaultXingTianLo, m8AssaultXingTianHi, C.purpleBand, 0.5);
    band(g, x, y, m8AssaultTianJiT, m8AssaultTianJiLo, m8AssaultTianJiHi, C.redBand, 0.5);
    line(g, x, y, m8AssaultRllibT, m8AssaultRllib, C.yellow, 1.2);
    line(g, x, y, m8AssaultXingTianT, m8AssaultXingTian, C.purple, 1.2);
    line(g, x, y, m8AssaultTianJiT, m8AssaultTianJi, C.red, 1.1);
    axes(svg, box, x, y, { xTicks: xt, xMinor: d3.range(2500, 25000, 5000), xPad: 2, yTicks: yt, yMinor: d3.range(500, 5000, 1000), yPad: 3 });
    svg.append("rect").attr("x", 64).attr("y", 455).attr("width", 98).attr("height", 57)
      .attr("fill", "#fff").attr("stroke", "#222").attr("stroke-width", 1);
    [["TianJi", C.red], ["XingTian", C.purple], ["RLlib", C.yellow]].forEach(([n, c], i) => {
      const ly = 465 + i * 18;
      svg.append("line").attr("x1", 67).attr("x2", 100).attr("y1", ly).attr("y2", ly).attr("stroke", c).attr("stroke-width", 1.3);
      txt(svg, 104, ly + 5, n, 15.5, "start");
    });
    txt(svg, 190, 468, "Assault", HEAD);
    txt(svg, (box.l + box.r) / 2, 639, "Training Time (secs)", AXT);
    txt(svg, 18, (box.t + box.b) / 2, "Episode Return", AXT, "middle", true);
  }

  // ===== (d) Boxing =====
  {
    const box = { l: 390, t: 452, r: 654, b: 613 };
    const x = d3.scaleLinear().domain([0, 32000]).range([box.l, box.r]);
    const y = d3.scaleLinear().domain([-40, 100]).range([box.b, box.t]);
    const xt = [0, 5000, 10000, 15000, 20000, 25000, 30000];
    const yt = [-40, -20, 0, 20, 40, 60, 80, 100];
    grid(svg, box, x, y, xt, yt);
    const g = clipped(svg, defs, "cd2", box);
    band(g, x, y, m8BoxingRllibT, m8BoxingRllibLo, m8BoxingRllibHi, C.yellowBand, 0.5);
    band(g, x, y, m8BoxingXingTianT, m8BoxingXingTianLo, m8BoxingXingTianHi, C.purpleBand, 0.5);
    band(g, x, y, m8BoxingTianJiT, m8BoxingTianJiLo, m8BoxingTianJiHi, C.redBand, 0.5);
    line(g, x, y, m8BoxingRllibT, m8BoxingRllib, C.yellow, 1.2);
    line(g, x, y, m8BoxingXingTianT, m8BoxingXingTian, C.purple, 1.2);
    line(g, x, y, m8BoxingTianJiT, m8BoxingTianJi, C.red, 1.1);
    axes(svg, box, x, y, { xTicks: xt, xMinor: d3.range(2500, 32000, 5000), xPad: 2, yTicks: yt, yMinor: d3.range(-30, 100, 20), yPad: 3 });
    txt(svg, 522, 467, "Boxing", HEAD);
    txt(svg, (box.l + box.r) / 2, 641, "Training Time (secs)", AXT);
    txt(svg, 358, (box.t + box.b) / 2, "Episode Return", AXT, "middle", true);
  }

  // ===== (d) Pong =====
  {
    const box = { l: 722, t: 450, r: 986, b: 613 };
    const x = d3.scaleLinear().domain([0, 18000]).range([box.l, box.r]);
    const y = d3.scaleLinear().domain([-21.7, 24.2]).range([box.b, box.t]);
    const xt = [0, 4000, 8000, 12000, 16000];
    const yt = [-20, -15, -10, -5, 0, 5, 10, 15, 20];
    grid(svg, box, x, y, xt, yt);
    const g = clipped(svg, defs, "cd3", box);
    band(g, x, y, m8PongRllibT, m8PongRllibLo, m8PongRllibHi, C.yellowBand, 0.5);
    band(g, x, y, m8PongXingTianT, m8PongXingTianLo, m8PongXingTianHi, C.purpleBand, 0.5);
    band(g, x, y, m8PongTianJiT, m8PongTianJiLo, m8PongTianJiHi, C.redBand, 0.55);
    line(g, x, y, m8PongRllibT, m8PongRllib, C.yellow, 1.2);
    line(g, x, y, m8PongXingTianT, m8PongXingTian, C.purple, 1.2);
    line(g, x, y, m8PongTianJiT, m8PongTianJi, C.red, 1.1);
    axes(svg, box, x, y, { xTicks: xt, xMinor: d3.range(2000, 18000, 4000), xPad: 2, yTicks: yt, yPad: 3 });
    // legend with patches
    svg.append("rect").attr("x", 871).attr("y", 509).attr("width", 80).attr("height", 48)
      .attr("fill", "#fff").attr("stroke", "#222").attr("stroke-width", 1);
    [
      ["TianJi", C.barPink, "hatchFwd"],
      ["XingTian", C.barPurple, "hatchBack"],
      ["RLlib", C.barYellow, "dots"],
    ].forEach(([n, c, p], i) => {
      const ly = 519 + i * 15;
      svg.append("rect").attr("x", 874).attr("y", ly - 6).attr("width", 24).attr("height", 12).attr("fill", c);
      svg.append("rect").attr("x", 874).attr("y", ly - 6).attr("width", 24).attr("height", 12)
        .attr("fill", `url(#${p})`).attr("stroke", "#222").attr("stroke-width", 1.2);
      txt(svg, 903, ly + 4.5, n, 12.5, "start");
    });
    txt(svg, 853, 463, "Pong", HEAD);
    txt(svg, (box.l + box.r) / 2, 641, "Training Time (secs)", AXT);
    txt(svg, 692, (box.t + box.b) / 2, "Episode Return", AXT, "middle", true);
  }

  // ===== (d) throughput bars =====
  {
    const box = { l: 1055, t: 448, r: 1320, b: 614 };
    const x = d3.scaleBand().domain(barScenarios).range([box.l, box.r]).paddingInner(0.2).paddingOuter(0.1);
    const xs = d3.scaleBand().domain(barSystems).range([0, x.bandwidth()]);
    const y = d3.scaleLinear().domain([0, 5430]).range([box.b, box.t]);
    const series = [
      { n: "TianJi", v: barTianJi, c: C.barPink, p: "hatchFwd" },
      { n: "XingTian", v: barXingTian, c: C.barPurple, p: "hatchBack" },
      { n: "RLlib", v: barRllib, c: C.barYellow, p: "dots" },
    ];
    series.forEach((s) => {
      s.v.forEach((v, i) => {
        const bx = x(barScenarios[i])! + xs(s.n)!;
        const by = y(v);
        const h = y(0) - by;
        svg.append("rect").attr("x", bx).attr("y", by).attr("width", xs.bandwidth()).attr("height", h).attr("fill", s.c);
        svg.append("rect").attr("x", bx).attr("y", by).attr("width", xs.bandwidth()).attr("height", h)
          .attr("fill", `url(#${s.p})`).attr("stroke", "#222").attr("stroke-width", 1.4);
      });
    });
    axes(svg, box, x, y, {
      xTicks: barScenarios, xTickSize: 0, xPad: 4,
      yTicks: [0, 1000, 2000, 3000, 4000, 5000], yMinor: d3.range(500, 5400, 1000),
    });
    txt(svg, (box.l + box.r) / 2, 646, "Atari Scenario", AXT);
    txt(svg, 1015, (box.t + box.b) / 2, "Training Throughput(steps/s)", AXT, "middle", true);
  }
  txt(svg, 714, 661, "(d) Training performence and training throughput of TianJi and baselines on 8 machines.", CAP);
}

export default function App() {
  const ref = useRef<SVGSVGElement>(null);

  useEffect(() => {
    const svg = d3.select(ref.current);
    // Clear previous drawing (for hot reloads)
    svg.selectAll("*").remove();
    drawAll(svg);
  }, []);

  return (
    <svg
      ref={ref}
      width={1330}
      height={671}
      style={{ position: "absolute", left: 0, top: 0, background: "#fff" }}
    />
  );
}
